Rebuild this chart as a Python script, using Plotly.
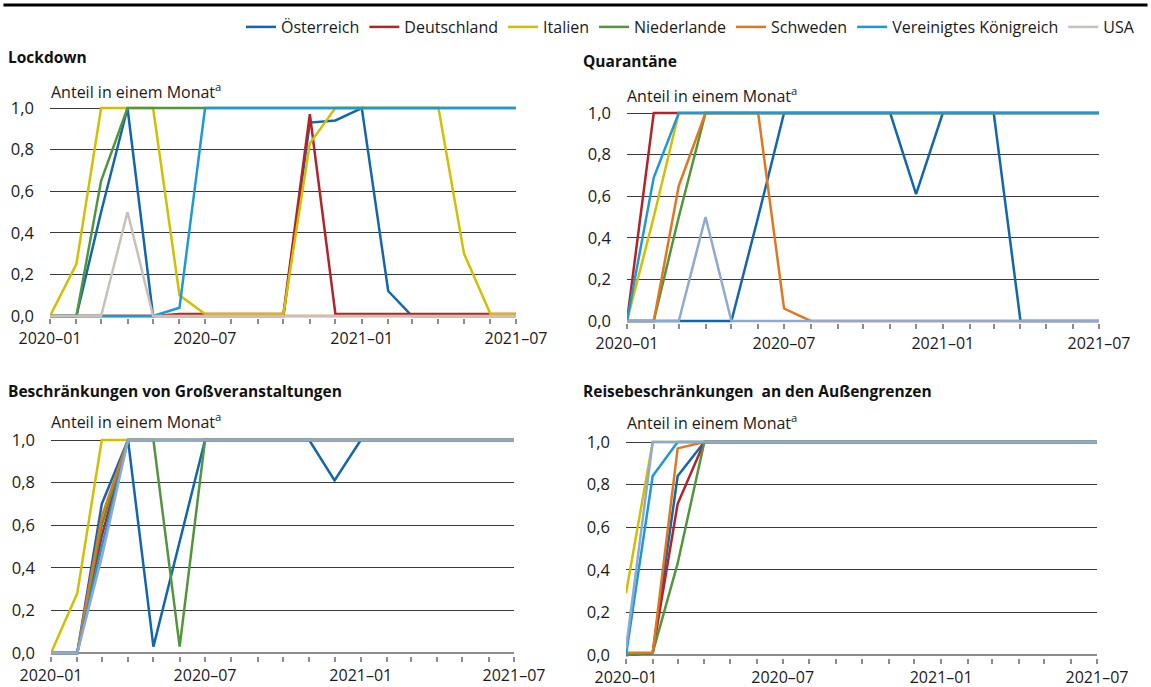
import plotly.graph_objects as go

W, H = 1151, 687

months = ["2020-01", "2020-02", "2020-03", "2020-04", "2020-05", "2020-06", "2020-07",
          "2020-08", "2020-09", "2020-10", "2020-11", "2020-12", "2021-01", "2021-02",
          "2021-03", "2021-04", "2021-05", "2021-06", "2021-07"]

countries = ["Österreich", "Deutschland", "Italien", "Niederlande", "Schweden",
             "Vereinigtes Königreich", "USA"]

# Lockdown
lock_at = [0, 0, 0.5, 1.0, 0, 0, 0, 0, 0, 0, 0.93, 0.94, 1.0, 0.12, 0, 0, 0, 0, 0]
lock_de = [0, 0, 0, 0, 0, 0.01, 0.01, 0.01, 0.01, 0.01, 0.97, 0.01, 0.01, 0.01, 0.01, 0.01, 0.01, 0.01, 0.01]
lock_it = [0, 0.25, 1.0, 1.0, 1.0, 0.1, 0.01, 0.01, 0.01, 0.01, 0.83, 1.0, 1.0, 1.0, 1.0, 1.0, 0.3, 0.01, 0.01]
lock_nl = [0, 0, 0.65, 1.0, 1.0, 1.0, 1.0, 1.0, 1.0, 1.0, 1.0, 1.0, 1.0, 1.0, 1.0, 1.0, 1.0, 1.0, 1.0]
lock_se = [0, 0, 0, 0, 0, 0, 0, 0, 0, 0, 0, 0, 0, 0, 0, 0, 0, 0, 0]
lock_uk = [0, 0, 0, 0, 0, 0.04, 1.0, 1.0, 1.0, 1.0, 1.0, 1.0, 1.0, 1.0, 1.0, 1.0, 1.0, 1.0, 1.0]
lock_us = [0, 0, 0, 0.5, 0, 0, 0, 0, 0, 0, 0, 0, 0, 0, 0, 0, 0, 0, 0]

# Quarantäne
quar_at = [0, 0, 0, 0, 0, 0.5, 1.0, 1.0, 1.0, 1.0, 1.0, 0.61, 1.0, 1.0, 1.0, 0, 0, 0, 0]
quar_de = [0, 1.0, 1.0, 1.0, 1.0, 1.0, 1.0, 1.0, 1.0, 1.0, 1.0, 1.0, 1.0, 1.0, 1.0, 1.0, 1.0, 1.0, 1.0]
quar_it = [0, 0.5, 1.0, 1.0, 1.0, 1.0, 1.0, 1.0, 1.0, 1.0, 1.0, 1.0, 1.0, 1.0, 1.0, 1.0, 1.0, 1.0, 1.0]
quar_nl = [0, 0, 0.5, 1.0, 1.0, 1.0, 1.0, 1.0, 1.0, 1.0, 1.0, 1.0, 1.0, 1.0, 1.0, 1.0, 1.0, 1.0, 1.0]
quar_se = [0, 0, 0.65, 1.0, 1.0, 1.0, 0.06, 0, 0, 0, 0, 0, 0, 0, 0, 0, 0, 0, 0]
quar_uk = [0, 0.69, 1.0, 1.0, 1.0, 1.0, 1.0, 1.0, 1.0, 1.0, 1.0, 1.0, 1.0, 1.0, 1.0, 1.0, 1.0, 1.0, 1.0]
quar_us = [0, 0, 0, 0.5, 0, 0, 0, 0, 0, 0, 0, 0, 0, 0, 0, 0, 0, 0, 0]

# Beschränkungen von Großveranstaltungen
gross_at = [0, 0, 0.7, 1.0, 0.03, 0.52, 1.0, 1.0, 1.0, 1.0, 1.0, 0.81, 1.0, 1.0, 1.0, 1.0, 1.0, 1.0, 1.0]
gross_de = [0, 0, 0.55, 1.0, 1.0, 1.0, 1.0, 1.0, 1.0, 1.0, 1.0, 1.0, 1.0, 1.0, 1.0, 1.0, 1.0, 1.0, 1.0]
gross_it = [0, 0.28, 1.0, 1.0, 1.0, 1.0, 1.0, 1.0, 1.0, 1.0, 1.0, 1.0, 1.0, 1.0, 1.0, 1.0, 1.0, 1.0, 1.0]
gross_nl = [0, 0, 0.6, 1.0, 1.0, 0.03, 1.0, 1.0, 1.0, 1.0, 1.0, 1.0, 1.0, 1.0, 1.0, 1.0, 1.0, 1.0, 1.0]
gross_se = [0, 0, 0.64, 1.0, 1.0, 1.0, 1.0, 1.0, 1.0, 1.0, 1.0, 1.0, 1.0, 1.0, 1.0, 1.0, 1.0, 1.0, 1.0]
gross_uk = [0, 0, 0.5, 1.0, 1.0, 1.0, 1.0, 1.0, 1.0, 1.0, 1.0, 1.0, 1.0, 1.0, 1.0, 1.0, 1.0, 1.0, 1.0]
gross_us = [0, 0, 0.45, 1.0, 1.0, 1.0, 1.0, 1.0, 1.0, 1.0, 1.0, 1.0, 1.0, 1.0, 1.0, 1.0, 1.0, 1.0, 1.0]

# Reisebeschränkungen an den Außengrenzen
reise_at = [0, 0.01, 0.84, 1.0, 1.0, 1.0, 1.0, 1.0, 1.0, 1.0, 1.0, 1.0, 1.0, 1.0, 1.0, 1.0, 1.0, 1.0, 1.0]
reise_de = [0, 0.01, 0.71, 1.0, 1.0, 1.0, 1.0, 1.0, 1.0, 1.0, 1.0, 1.0, 1.0, 1.0, 1.0, 1.0, 1.0, 1.0, 1.0]
reise_it = [0.29, 1.0, 1.0, 1.0, 1.0, 1.0, 1.0, 1.0, 1.0, 1.0, 1.0, 1.0, 1.0, 1.0, 1.0, 1.0, 1.0, 1.0, 1.0]
reise_nl = [0, 0.01, 0.43, 1.0, 1.0, 1.0, 1.0, 1.0, 1.0, 1.0, 1.0, 1.0, 1.0, 1.0, 1.0, 1.0, 1.0, 1.0, 1.0]
reise_se = [0.01, 0.01, 0.97, 1.0, 1.0, 1.0, 1.0, 1.0, 1.0, 1.0, 1.0, 1.0, 1.0, 1.0, 1.0, 1.0, 1.0, 1.0, 1.0]
reise_uk = [0, 0.84, 1.0, 1.0, 1.0, 1.0, 1.0, 1.0, 1.0, 1.0, 1.0, 1.0, 1.0, 1.0, 1.0, 1.0, 1.0, 1.0, 1.0]
reise_us = [0.03, 1.0, 1.0, 1.0, 1.0, 1.0, 1.0, 1.0, 1.0, 1.0, 1.0, 1.0, 1.0, 1.0, 1.0, 1.0, 1.0, 1.0, 1.0]

panel_titles = ["Lockdown", "Quarantäne", "Beschränkungen von Großveranstaltungen",
                "Reisebeschränkungen  an den Außengrenzen"]
y_title = "Anteil in einem Monat<sup>a</sup>"
x_ticklabels = ["2020–01", "2020–07", "2021–01", "2021–07"]
y_ticks = [0, 0.2, 0.4, 0.6, 0.8, 1.0]

panels = [
    [lock_at, lock_de, lock_it, lock_nl, lock_se, lock_uk, lock_us],
    [quar_at, quar_de, quar_it, quar_nl, quar_se, quar_uk, quar_us],
    [gross_at, gross_de, gross_it, gross_nl, gross_se, gross_uk, gross_us],
    [reise_at, reise_de, reise_it, reise_nl, reise_se, reise_uk, reise_us],
]

colors = ["#1266ae", "#b3232a", "#d4be00", "#51963c", "#e3761d", "#1c9ad6", "#c8c0b9"]
usa_alt = "#8eaad3"

FONT = "Open Sans"

# pixel geometry: (x0, x1, y_of_1.0, y_of_0.0)
geom = [(50, 516, 108, 316), (627, 1099, 113, 321), (51, 514, 440, 653), (626, 1097, 442, 655)]
title_pos = [(6, 57), (581, 61), (6, 391), (581, 391)]
sub_pos = [(49, 91), (625, 95), (49, 421), (625, 422)]

YLO, YHI = -0.012, 1.012

fig = go.Figure()
layout = {}
annotations = []
for p, series in enumerate(panels):
    ax = "" if p == 0 else str(p + 1)
    x0, x1, y1, y0 = geom[p]
    unit = (y0 - y1)
    bot = y0 - YLO * unit
    top = y0 - YHI * unit
    layout["xaxis" + ax] = dict(
        domain=[x0 / W, x1 / W], anchor="y" + ax, type="date",
        range=[months[0], months[-1]], automargin=False,
        tickvals=[months[0], months[6], months[12], months[18]],
        ticktext=x_ticklabels, ticks="outside", ticklen=5, tickcolor="#8c8c8c", tickwidth=1.5,
        minor=dict(tickvals=months, ticks="outside", ticklen=5, tickcolor="#8c8c8c", tickwidth=1.5),
        showgrid=False, showline=False, zeroline=False,
        tickfont=dict(family=FONT, size=16, color="#1a1a1a"),
    )
    layout["yaxis" + ax] = dict(
        domain=[1 - bot / H, 1 - top / H], anchor="x" + ax, automargin=False,
        range=[YLO, YHI], tickvals=y_ticks, tickformat=".1f",
        showgrid=True, gridcolor="#3a3a3a", gridwidth=1,
        zeroline=True, zerolinecolor="#8c8c8c", zerolinewidth=2,
        showline=False, ticks="", ticklabelstandoff=15,
        tickfont=dict(family=FONT, size=16.5, color="#1a1a1a"),
    )
    for i, (name, vals) in enumerate(zip(countries, series)):
        col = colors[i]
        if i == 6 and p > 0:
            col = usa_alt
        fig.add_trace(go.Scatter(
            x=months, y=vals, mode="lines", name=name,
            line=dict(color=col, width=2.5),
            showlegend=(p == 0), legendgroup=name,
            xaxis="x" + ax, yaxis="y" + ax,
        ))
    tx, ty = title_pos[p]
    annotations.append(dict(text="<b>" + panel_titles[p] + "</b>", x=tx / W, y=1 - ty / H,
                            xref="paper", yref="paper", xanchor="left", yanchor="middle",
                            showarrow=False, font=dict(family=FONT, size=15.5, color="#111")))
    sx, sy = sub_pos[p]
    annotations.append(dict(text=y_title, x=sx / W, y=1 - sy / H,
                            xref="paper", yref="paper", xanchor="left", yanchor="middle",
                            showarrow=False, font=dict(family=FONT, size=16, color="#1a1a1a")))

fig.update_layout(
    **layout,
    template="none",
    annotations=annotations,
    width=W, height=H, autosize=False,
    margin=dict(l=0, r=0, t=0, b=0, pad=0),
    paper_bgcolor="white", plot_bgcolor="white",
    separators=",.",
    showlegend=True,
    legend=dict(orientation="h", x=1140 / W, xanchor="right", y=1 - 27 / H, yanchor="middle",
                font=dict(family=FONT, size=16, color="#1a1a1a"),
                itemwidth=30, tracegroupgap=0, bgcolor="rgba(0,0,0,0)", borderwidth=0),
    shapes=[dict(type="line", xref="paper", yref="paper", x0=0.003, x1=0.997,
                 y0=1 - 5 / H, y1=1 - 5 / H, line=dict(color="black", width=3))],
    hovermode=False,
)

fig.write_html(
    "out.html",
    config={"displayModeBar": False, "staticPlot": False},
    post_script="document.body.style.margin='0';document.body.style.padding='0';"
                "document.body.style.overflow='hidden';",
)
